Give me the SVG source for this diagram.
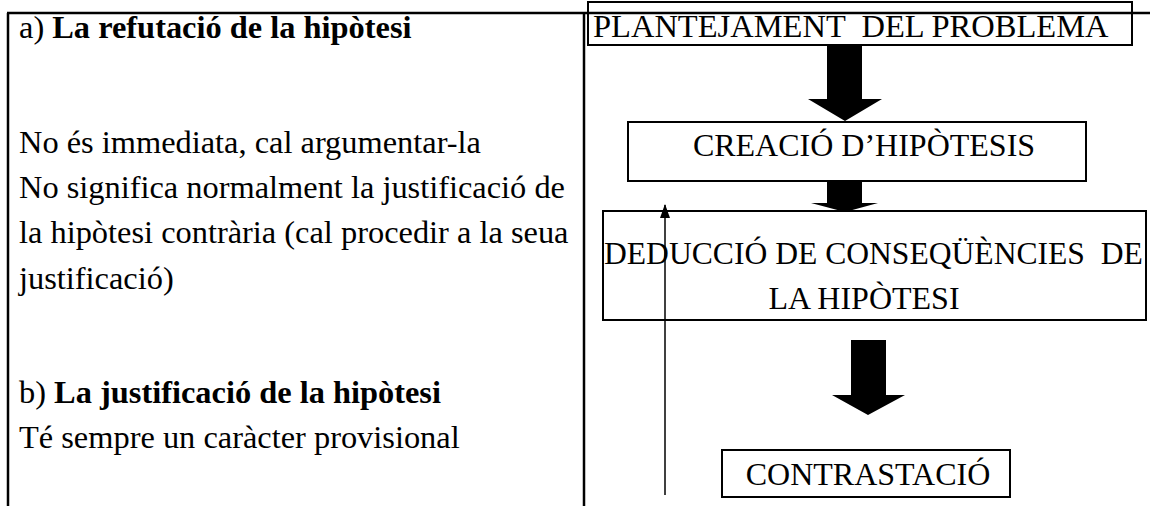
<svg xmlns="http://www.w3.org/2000/svg" width="1150" height="506" viewBox="0 0 1150 506">
<style>
text{font-family:"Liberation Serif","Times New Roman",serif;font-size:32px;fill:#000;white-space:pre}
.l{font-size:32.4px}
.b{font-weight:bold}
.box{fill:none;stroke:#000;stroke-width:2}
.tbl{stroke:#000;stroke-width:2.5;fill:none}
.big{fill:#000;stroke:none}
.fb{stroke:#000;stroke-width:1.5;fill:none}
</style>
<defs>
<marker id="ah" markerWidth="14" markerHeight="10" refX="13" refY="5" orient="auto" markerUnits="userSpaceOnUse" viewBox="0 0 14 10">
<path d="M0,0 L14,5 L0,10 Z" fill="#000"/>
</marker>
</defs>
<rect width="1150" height="506" fill="#fff"/>
<g id="table">
<line class="tbl" x1="7" y1="13" x2="1150" y2="13"/>
<line class="tbl" x1="8" y1="13" x2="8" y2="506"/>
<line class="tbl" x1="584" y1="13" x2="584" y2="506"/>
</g>
<g id="left-text">
<text class="l" x="19" y="38">a) <tspan class="b">La refutació de la hipòtesi</tspan></text>
<text class="l" x="19" y="153">No és immediata, cal argumentar-la</text>
<text class="l" x="19" y="198">No significa normalment la justificació de</text>
<text class="l" x="19" y="243">la hipòtesi contrària (cal procedir a la seua</text>
<text class="l" x="19" y="289">justificació)</text>
<text class="l" x="19" y="403">b) <tspan class="b">La justificació de la hipòtesi</tspan></text>
<text class="l" x="19" y="448">Té sempre un caràcter provisional</text>
</g>
<g id="n-plantejament">
<rect class="box" x="588" y="2" width="544" height="43"/>
<text x="593" y="37" style="font-size:32.5px">PLANTEJAMENT  DEL PROBLEMA</text>
</g>
<g id="n-creacio">
<rect class="box" x="628" y="122" width="458" height="59"/>
<text x="864" y="156" text-anchor="middle">CREACIÓ D’HIPÒTESIS</text>
</g>
<g id="n-deduccio">
<rect class="box" x="603" y="211" width="543" height="109"/>
<text x="604" y="264" style="font-size:31.6px">DEDUCCIÓ DE CONSEQÜÈNCIES  DE</text>
<text x="864" y="309" text-anchor="middle">LA HIPÒTESI</text>
</g>
<g id="n-contrastacio">
<rect class="box" x="722" y="450" width="288" height="47"/>
<text x="868" y="485" text-anchor="middle">CONTRASTACIÓ</text>
</g>
<g id="connectors">
<path class="big" d="M827,45 H862 V99 H882 L845,121 L808,99 H827 Z"/>
<path class="big" d="M827,181 H862 V203 H878 L845,212 L811,203 H827 Z"/>
<path class="big" d="M851,340 H886 V395 H905 L868,415 L832,395 H851 Z"/>
<line class="fb" x1="665" y1="495" x2="665" y2="205" marker-end="url(#ah)"/>
</g>
</svg>
